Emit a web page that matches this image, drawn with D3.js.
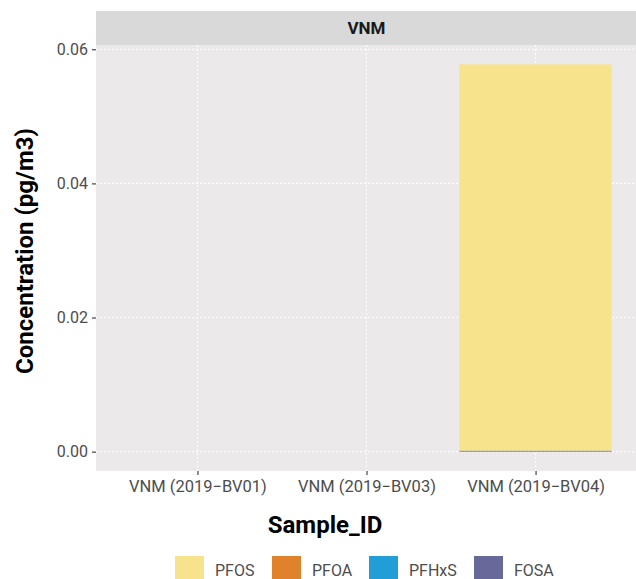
<!DOCTYPE html>
<html>
<head>
<meta charset="utf-8">
<script src="https://cdn.jsdelivr.net/npm/d3@7"></script>
<style>
  html, body { margin: 0; padding: 0; background: #fff; }
  svg { display: block; font-family: Roboto, "Noto Sans", sans-serif; }
</style>
</head>
<body>
<svg id="chart" width="636" height="579"></svg>
<script>
// Samples shown on the x axis
const samples = ["VNM (2019−BV01)", "VNM (2019−BV03)", "VNM (2019−BV04)"];
// Compounds, in legend order (first one is drawn on top of the stack)
const compounds = ["PFOS", "PFOA", "PFHxS", "FOSA"];
const compoundColors = ["#f7e38c", "#e0812b", "#229ed7", "#66699a"];
// Concentrations (pg/m3) per compound, one value per sample
const pfos  = [0, 0, 0.0576];
const pfoa  = [0, 0, 0];
const pfhxs = [0, 0, 0];
const fosa  = [0, 0, 0.00015];
// Y axis ticks
const yTicks = [0, 0.02, 0.04, 0.06];
const facetLabel = "VNM";

const svg = d3.select("#chart");
const panel = { left: 96, right: 637, top: 45, bottom: 471 };

const rows = samples.map((s, i) => ({
  sample: s, PFOS: pfos[i], PFOA: pfoa[i], PFHxS: pfhxs[i], FOSA: fosa[i]
}));
// stack bottom-up from the last compound so the first one sits on top
const stacked = d3.stack().keys(compounds.slice().reverse())(rows);
const maxVal = d3.max(stacked[stacked.length - 1], d => d[1]);
const pad = maxVal * 0.05;

// discrete scale with 0.6 of a step on either side
const xStep = (panel.right - panel.left) / (samples.length - 1 + 1.2);
const x = d3.scalePoint().domain(samples)
  .range([panel.left + 0.6 * xStep, panel.right - 0.6 * xStep]);
const barW = xStep * 0.9;

const y = d3.scaleLinear().domain([-pad, maxVal + pad]).range([panel.bottom, panel.top]);
const color = d3.scaleOrdinal().domain(compounds).range(compoundColors);

// strip
svg.append("rect").attr("x", panel.left).attr("y", 11)
  .attr("width", panel.right - panel.left).attr("height", panel.top - 11)
  .attr("fill", "#d9d9d9");
svg.append("text").attr("x", (panel.left + panel.right) / 2).attr("y", 34)
  .attr("text-anchor", "middle").attr("font-size", 17).attr("font-weight", "bold")
  .attr("fill", "#1a1a1a").text(facetLabel);

// panel background
svg.append("rect").attr("x", panel.left).attr("y", panel.top)
  .attr("width", panel.right - panel.left).attr("height", panel.bottom - panel.top)
  .attr("fill", "#ebe9ea");

// grid
const grid = svg.append("g").attr("stroke", "#ffffff").attr("stroke-width", 1.1)
  .attr("stroke-dasharray", "2,2");
yTicks.forEach(t => {
  grid.append("line").attr("x1", panel.left).attr("x2", panel.right)
    .attr("y1", y(t)).attr("y2", y(t));
});
samples.forEach(s => {
  grid.append("line").attr("x1", x(s)).attr("x2", x(s))
    .attr("y1", panel.top).attr("y2", panel.bottom);
});

// stacked bars
svg.append("g").selectAll("g").data(stacked).join("g")
  .attr("fill", d => color(d.key))
  .selectAll("rect").data(d => d).join("rect")
  .attr("x", d => x(d.data.sample) - barW / 2)
  .attr("width", barW)
  .attr("y", d => y(d[1]))
  .attr("height", d => Math.max(0, y(d[0]) - y(d[1])));

// y axis
const yAxis = d3.axisLeft(y).tickValues(yTicks).tickFormat(d3.format(".2f"))
  .tickSize(4).tickPadding(4);
const gy = svg.append("g").attr("transform", `translate(${panel.left},0)`).call(yAxis);
gy.select(".domain").remove();
gy.selectAll(".tick line").attr("stroke", "#333").attr("stroke-width", 1.1);
gy.selectAll(".tick text").attr("fill", "#4d4d4d").attr("font-size", 16)
  .attr("font-family", "Roboto, sans-serif");

// x axis
const xAxis = d3.axisBottom(x).tickSize(4).tickPadding(5);
const gx = svg.append("g").attr("transform", `translate(0,${panel.bottom})`).call(xAxis);
gx.select(".domain").remove();
gx.selectAll(".tick line").attr("stroke", "#333").attr("stroke-width", 1.1);
gx.selectAll(".tick text").attr("fill", "#4d4d4d").attr("font-size", 16.5)
  .attr("font-family", "Roboto, sans-serif");

// axis titles
svg.append("text").attr("x", 325).attr("y", 533)
  .attr("text-anchor", "middle").attr("font-size", 24).attr("font-weight", "bold")
  .attr("fill", "#000").text("Sample_ID");
svg.append("text")
  .attr("transform", `translate(33,251) rotate(-90)`)
  .attr("text-anchor", "middle").attr("font-size", 24).attr("font-weight", "bold")
  .attr("fill", "#000").text("Concentration (pg/m3)");

// legend
const legendX = [175, 272, 369, 474];
const lg = svg.append("g");
compounds.forEach((c, i) => {
  lg.append("rect").attr("x", legendX[i]).attr("y", 556).attr("width", 29).attr("height", 23)
    .attr("fill", color(c));
  lg.append("text").attr("x", legendX[i] + 40).attr("y", 575.5)
    .attr("font-size", 16).attr("fill", "#4d4d4d").text(c);
});
</script>
</body>
</html>
